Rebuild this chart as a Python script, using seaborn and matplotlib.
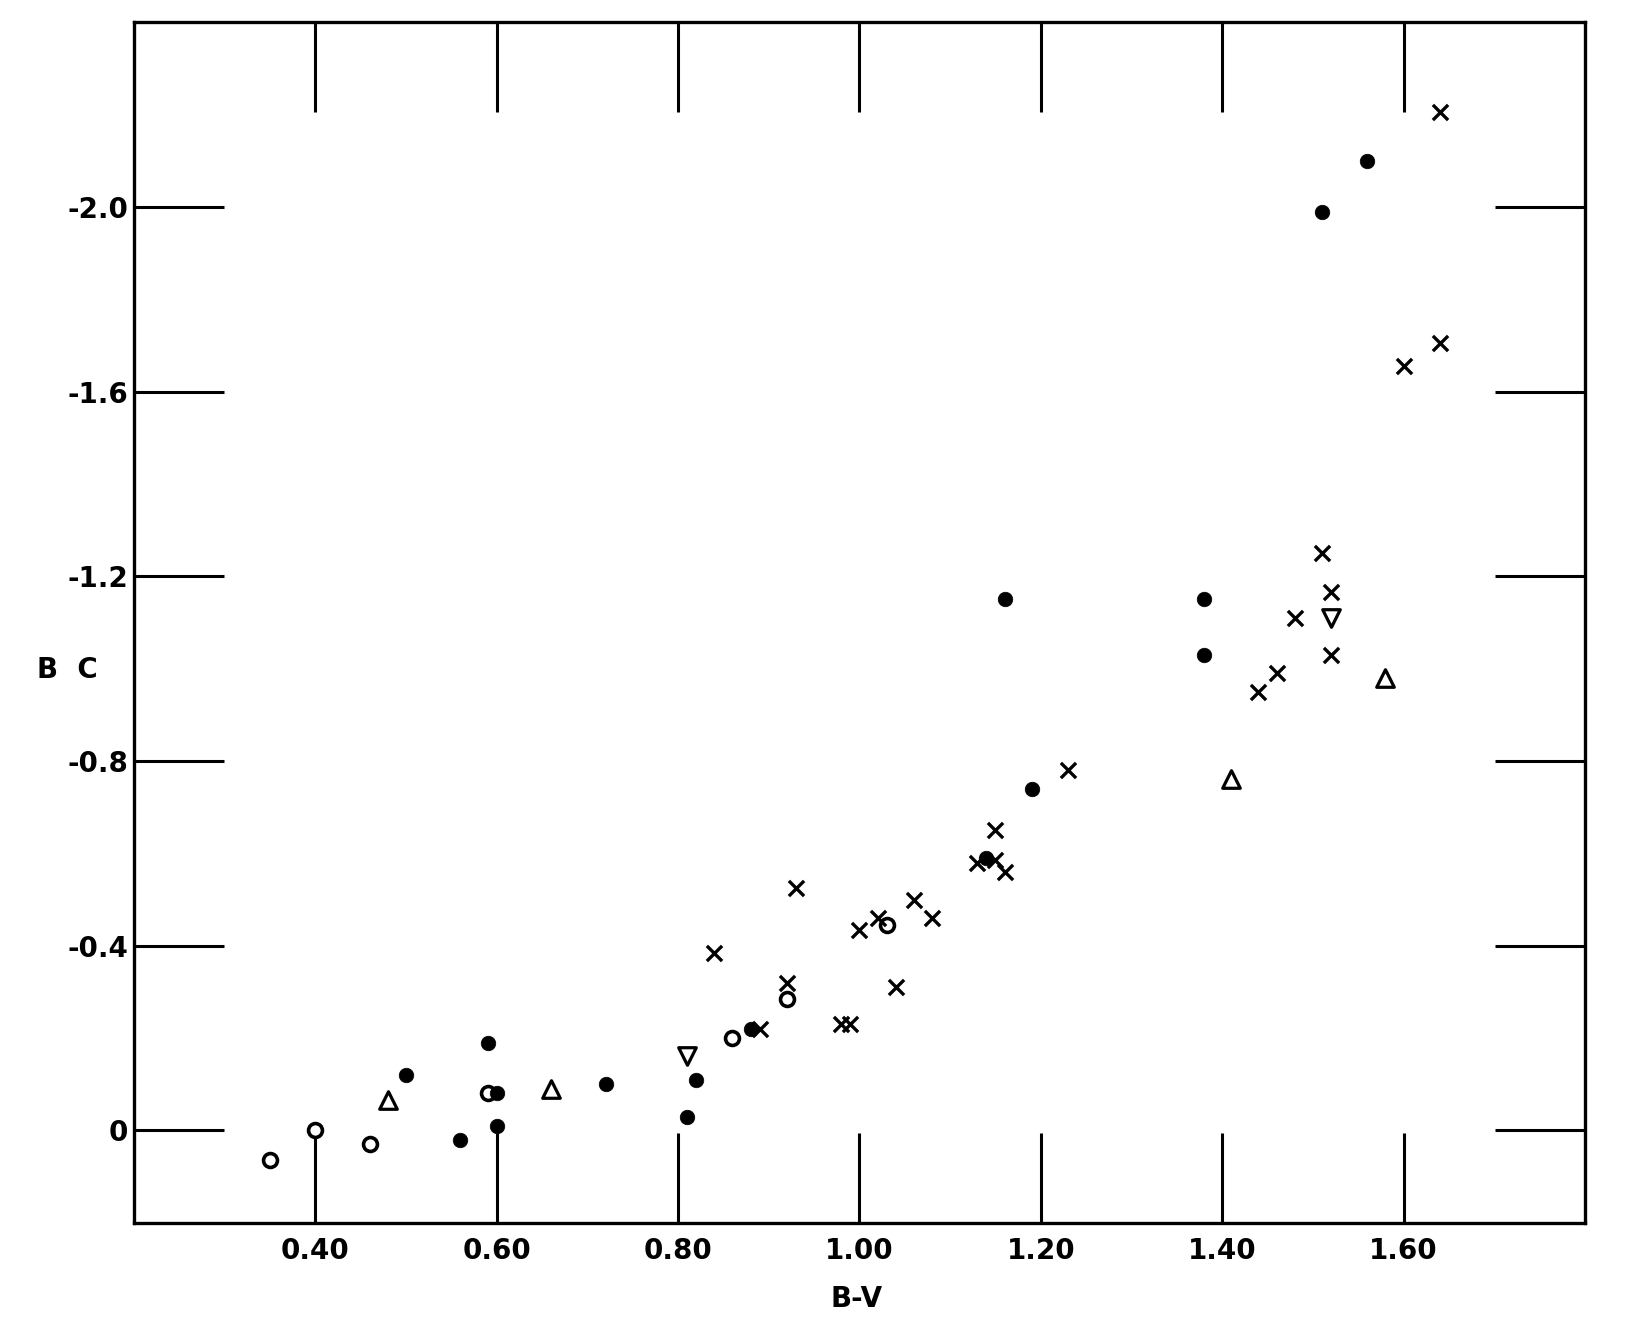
import matplotlib
matplotlib.use("Agg")
import matplotlib.pyplot as plt
import numpy as np
import pandas as pd
import seaborn as sns

# ---- data (B-V, BC) ----
x_filled = [0.50, 0.56, 0.59, 0.60, 0.60, 0.72, 0.82, 0.81, 0.88, 1.14, 1.19, 1.16, 1.38, 1.38, 1.51, 1.56]
bc_filled = [-0.12, 0.02, -0.19, -0.08, -0.01, -0.10, -0.11, -0.03, -0.22, -0.59, -0.74, -1.15, -1.15, -1.03, -1.99, -2.10]

x_open = [0.35, 0.40, 0.46, 0.59, 0.86, 0.92, 1.03]
bc_open = [0.065, 0.00, 0.03, -0.08, -0.20, -0.285, -0.445]

x_cross = [0.84, 0.89, 0.92, 0.93, 0.98, 0.99, 1.00, 1.02, 1.04, 1.06, 1.08, 1.13, 1.15, 1.15, 1.16,
           1.23, 1.44, 1.46, 1.52, 1.48, 1.52, 1.51, 1.60, 1.64, 1.64]
bc_cross = [-0.385, -0.22, -0.32, -0.525, -0.23, -0.23, -0.435, -0.46, -0.31, -0.50, -0.46, -0.58, -0.585, -0.65, -0.56,
            -0.78, -0.95, -0.99, -1.03, -1.11, -1.165, -1.25, -1.655, -1.705, -2.205]

x_tri_up = [0.48, 0.66, 1.41, 1.58]
bc_tri_up = [-0.065, -0.09, -0.76, -0.98]

x_tri_down = [0.81, 1.52]
bc_tri_down = [-0.16, -1.11]

xtick_vals = [0.40, 0.60, 0.80, 1.00, 1.20, 1.40, 1.60]
xtick_labels = ["0.40", "0.60", "0.80", "1.00", "1.20", "1.40", "1.60"]
ytick_vals = [0.0, -0.4, -0.8, -1.2, -1.6, -2.0]
ytick_labels = ["0", "-0.4", "-0.8", "-1.2", "-1.6", "-2.0"]

sns.set_theme(style="white")
plt.rcParams['font.family'] = ['DejaVu Sans']
plt.rcParams['font.weight'] = 'bold'
plt.rcParams['text.color'] = 'black'
plt.rcParams['axes.labelcolor'] = 'black'

fig = plt.figure(figsize=(16.26, 13.24), dpi=100)
ax = fig.add_axes([0.0824, 0.0765, 0.9747 - 0.0824, 0.9832 - 0.0765])

df_f = pd.DataFrame({"x": x_filled, "bc": bc_filled})
df_o = pd.DataFrame({"x": x_open, "bc": bc_open})
df_x = pd.DataFrame({"x": x_cross, "bc": bc_cross})
df_u = pd.DataFrame({"x": x_tri_up, "bc": bc_tri_up})
df_d = pd.DataFrame({"x": x_tri_down, "bc": bc_tri_down})

sns.scatterplot(data=df_o, x="x", y="bc", marker="o", s=100, color="white",
                edgecolor="black", linewidth=2.6, ax=ax, zorder=3)
sns.scatterplot(data=df_u, x="x", y="bc", marker="^", s=160, color="white",
                edgecolor="black", linewidth=2.3, ax=ax, zorder=3)
sns.scatterplot(data=df_d, x="x", y="bc", marker="v", s=160, color="white",
                edgecolor="black", linewidth=2.3, ax=ax, zorder=3)
sns.scatterplot(data=df_x, x="x", y="bc", marker="x", s=120, color="black",
                linewidth=2.4, ax=ax, zorder=4)
sns.scatterplot(data=df_f, x="x", y="bc", marker="o", s=110, color="black",
                edgecolor="black", linewidth=0.5, ax=ax, zorder=4)

ax.set_xlim(0.2, 1.8)
ax.set_ylim(0.2, -2.4)

ax.set_xticks(xtick_vals)
ax.set_xticklabels(xtick_labels, fontsize=20, fontweight='bold', color='black')
ax.set_yticks(ytick_vals)
ax.set_yticklabels(ytick_labels, fontsize=20, fontweight='bold', color='black')

ax.tick_params(axis='both', which='major', direction='in', length=65, width=2.2,
               colors='black', top=True, right=True, bottom=True, left=True,
               labeltop=False, labelright=False)
ax.tick_params(axis='x', pad=10)
ax.tick_params(axis='y', pad=4)

for sp in ax.spines.values():
    sp.set_visible(True)
    sp.set_color('black')
    sp.set_linewidth(2.4)

ax.set_xlabel("B-V", fontsize=20, fontweight='bold', color='black')
ax.xaxis.set_label_coords(0.498, -0.052)
ax.set_ylabel("B  C", fontsize=20, fontweight='bold', color='black', rotation=0, ha='center', va='center')
ax.yaxis.set_label_coords(-0.046, 0.46)

fig.savefig("out.png", dpi=100, facecolor="white")
